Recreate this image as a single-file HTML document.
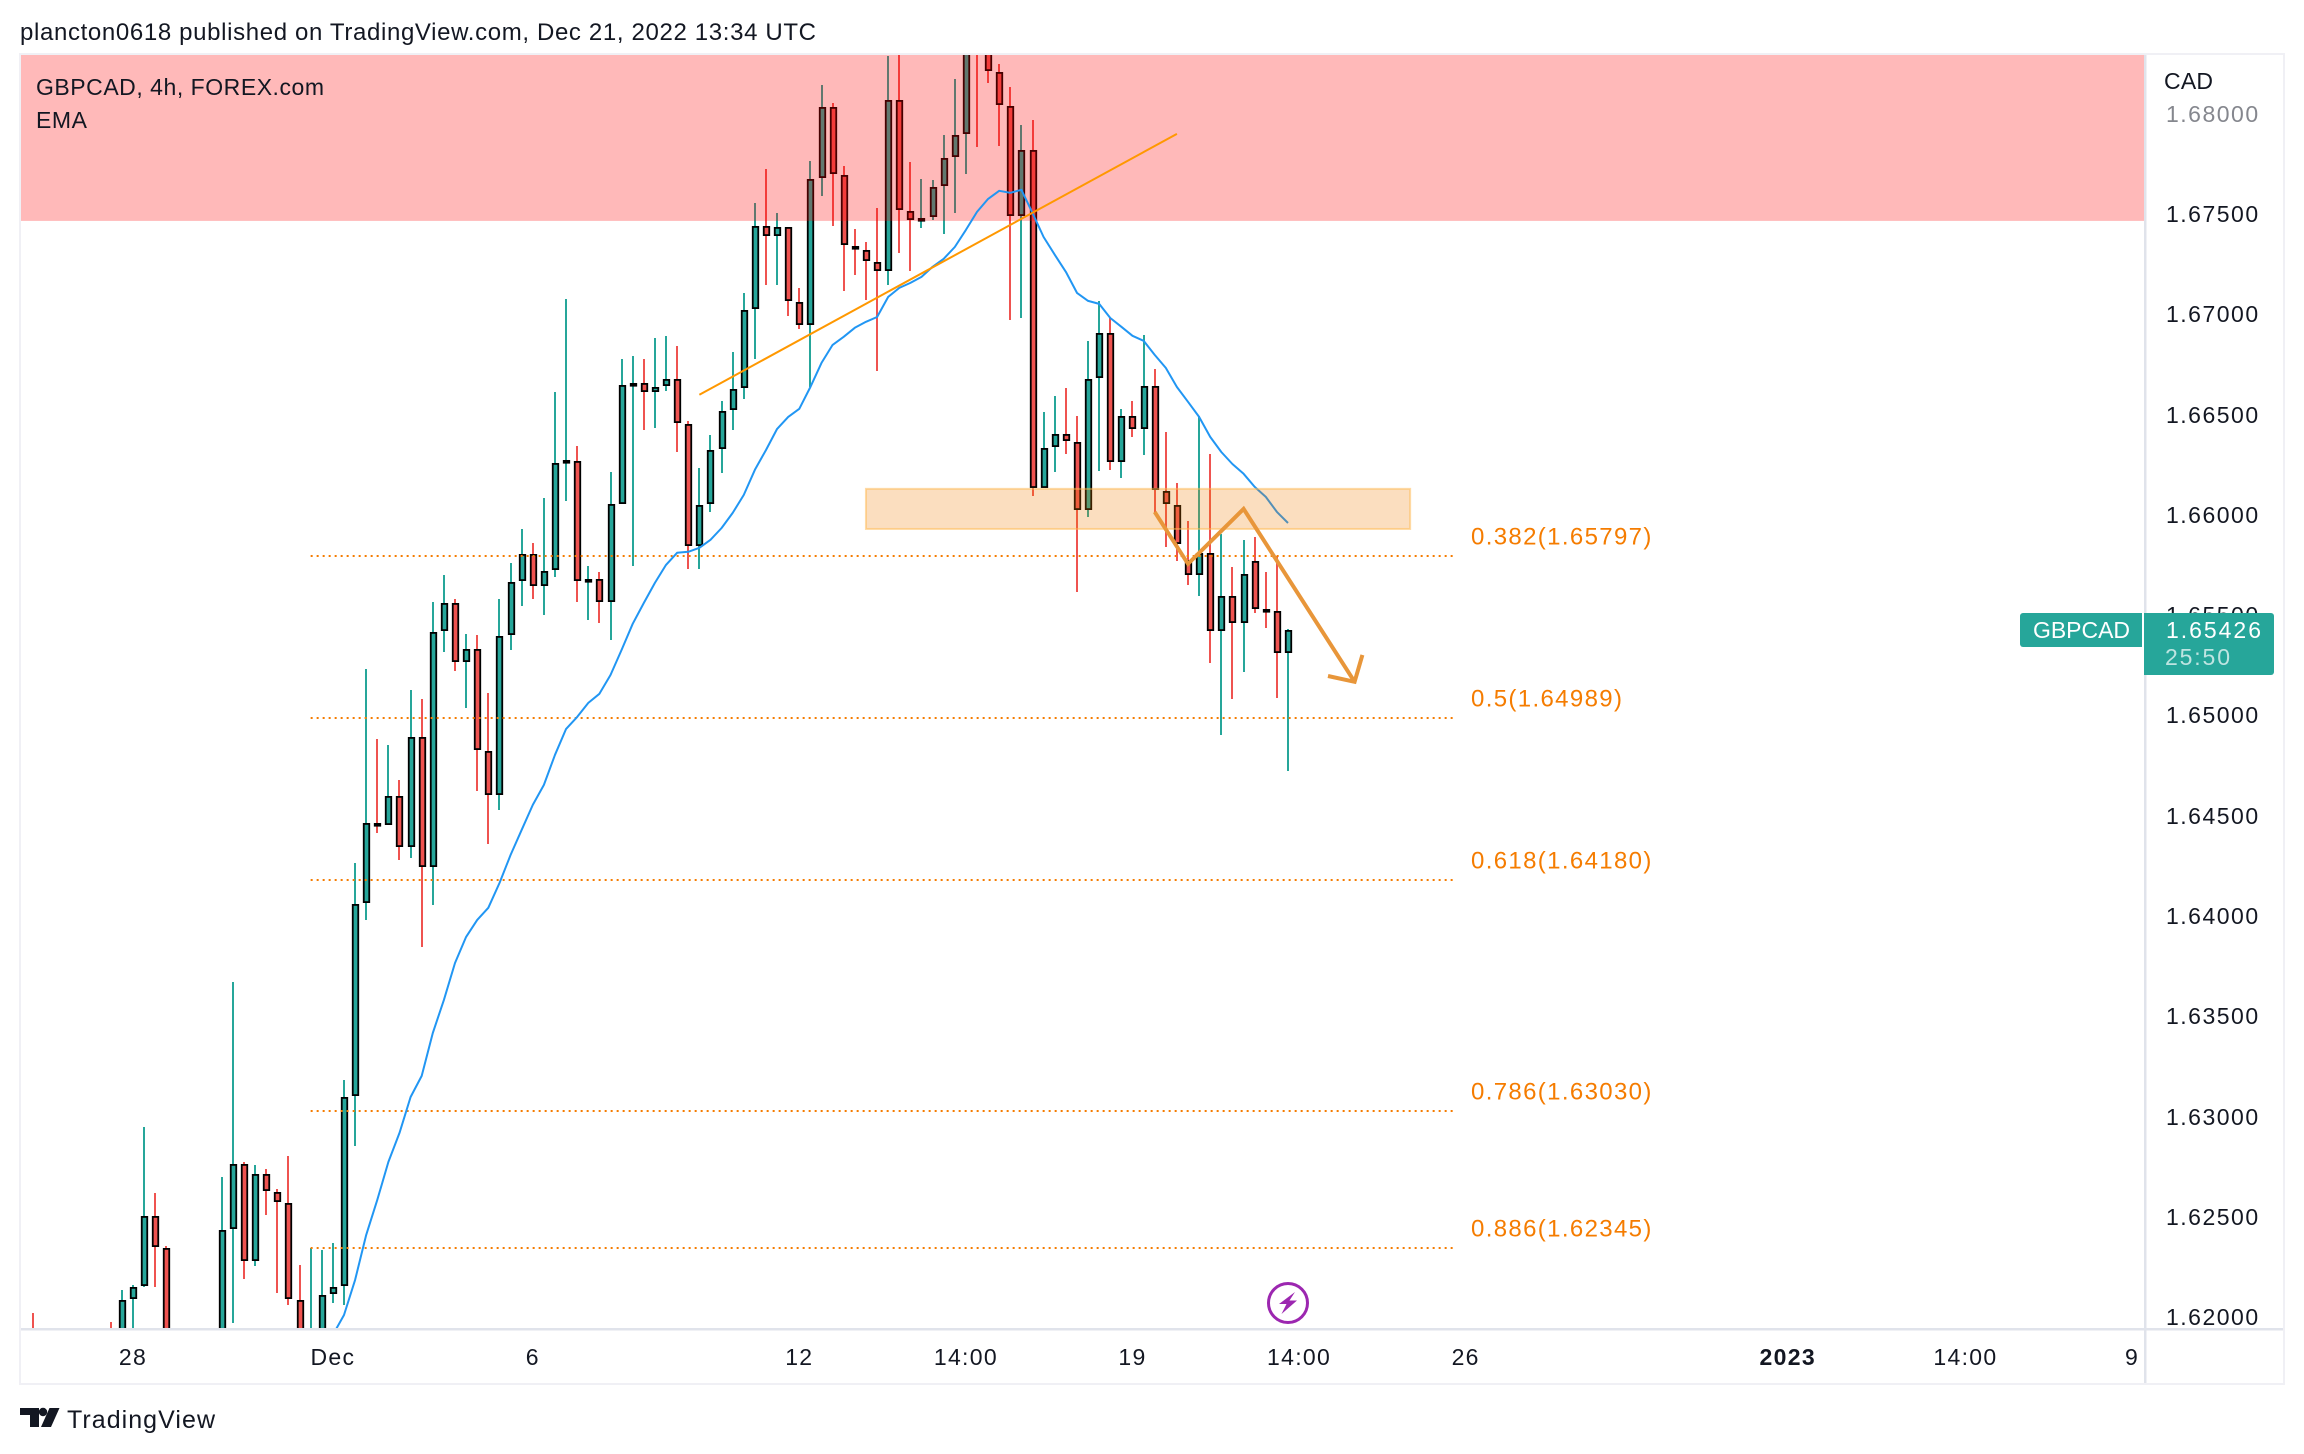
<!DOCTYPE html>
<html lang="en">
<head>
<meta charset="utf-8">
<title>GBPCAD 4h chart</title>
<style>
html,body{margin:0;padding:0;background:#fff;width:2304px;height:1454px;overflow:hidden}
svg{display:block;font-family:"Liberation Sans",sans-serif}
</style>
</head>
<body>
<svg id="chart" xmlns="http://www.w3.org/2000/svg" width="2304" height="1454" viewBox="0 0 2304 1454">
  <defs><clipPath id="plot-clip"><rect x="21" y="55" width="2123" height="1273"/></clipPath></defs>
  <rect x="0" y="0" width="2304" height="1454" fill="#ffffff"/>
  <text x="20" y="40" font-size="24" fill="#131722" textLength="796" lengthAdjust="spacing">plancton0618 published on TradingView.com, Dec 21, 2022 13:34 UTC</text>
  <rect x="20" y="54" width="2264" height="1330" fill="#ffffff" stroke="#f0f0f5" stroke-width="2"/>
  <g id="plot" clip-path="url(#plot-clip)"></g>
  <rect x="2144" y="55" width="2.5" height="1328" fill="#e0e3eb"/>
  <rect x="21" y="1328" width="2262" height="2.5" fill="#e0e3eb"/>
  <g id="overlay"></g>
  <g id="price-axis"></g>
  <g id="time-axis"></g>
  <text x="36" y="95" font-size="23" fill="#131722" textLength="288" lengthAdjust="spacing">GBPCAD, 4h, FOREX.com</text>
  <text x="36" y="128" font-size="23" fill="#131722" textLength="51" lengthAdjust="spacing">EMA</text>
  <text x="2164" y="89" font-size="23" fill="#131722" textLength="49" lengthAdjust="spacing">CAD</text>
  <g>
    <path d="M2142 613H2023a3 3 0 0 0-3 3V644a3 3 0 0 0 3 3H2142Z" fill="#26a69a"/>
    <text x="2033" y="638" font-size="23" fill="#ffffff" textLength="97" lengthAdjust="spacing">GBPCAD</text>
    <path d="M2144 613H2271a3 3 0 0 1 3 3V672a3 3 0 0 1-3 3H2144Z" fill="#26a69a"/>
    <text x="2166" y="638" font-size="23" fill="#ffffff" textLength="95" lengthAdjust="spacing">1.65426</text>
    <text x="2165" y="665" font-size="23" fill="#ffffff" fill-opacity="0.7" textLength="65" lengthAdjust="spacing">25:50</text>
  </g>
  <g>
    <circle cx="1288" cy="1303" r="19.5" fill="#ffffff" stroke="#9c27b0" stroke-width="3"/>
    <polygon points="1295,1292 1279,1304 1286.5,1304 1281.5,1314 1297,1300.5 1289.5,1300.5" fill="#9c27b0"/>
  </g>
  <g>
    <path d="M20 1408H39V1427H30V1415H20Z" fill="#131722"/>
    <circle cx="43" cy="1412" r="4.2" fill="#131722"/>
    <polygon points="49.5,1408 59.5,1408 51,1427 41,1427" fill="#131722"/>
    <text x="67" y="1428" font-size="25" fill="#131722" textLength="148" lengthAdjust="spacing">TradingView</text>
  </g>
</svg>
<script>
// ---- chart data (bar slot = 4h bar number, prices in CAD) ----
const barSlots = [0,7,8,9,10,11,12,17,18,19,20,21,22,23,24,25,26,27,28,29,30,31,32,33,34,35,36,37,38,39,40,41,42,43,44,45,46,47,48,49,50,51,52,53,54,55,56,57,58,59,60,61,62,63,64,65,66,67,68,69,70,71,72,73,74,75,76,77,78,79,80,81,82,83,84,85,86,87,88,89,90,91,92,93,94,95,96,97,98,99,100,101,102,103,104,105,106,107,108,109,110,111,112,113];
const opens = [1.61887,1.61887,1.61862,1.62091,1.62156,1.62505,1.62345,
1.61862,1.62440,1.62764,1.62281,1.62714,1.62625,1.62570,1.62086,1.61837,1.61862,1.62116,1.62156,1.63103,1.64066,1.64465,1.64455,1.64599,1.64345,1.64893,1.64245,1.65422,1.65561,1.65267,1.65332,1.64824,1.64604,1.65402,1.65671,1.65806,1.65646,1.65726,1.66259,1.66269,1.65671,1.65681,1.65566,1.66055,1.66648,1.66658,1.66613,1.66643,1.66678,1.66454,1.65846,1.66055,1.66329,1.66524,1.66633,1.67027,1.67441,1.67391,1.67436,1.67062,1.66948,1.67680,1.68034,1.67695,1.67341,1.67322,1.67262,1.67217,1.68069,1.67516,1.67471,1.67486,1.67641,1.67785,1.67900,1.68468,1.68344,1.68209,1.68039,1.67491,1.67820,1.66135,1.66339,1.66404,1.66364,1.66025,1.66683,1.66908,1.66264,1.66494,1.66429,1.66643,1.66120,1.66050,1.65776,1.65701,1.65811,1.65422,1.65596,1.65462,1.65771,1.65532,1.65522,1.65312];
const highs = [1.62021,1.61977,1.62136,1.62161,1.62949,1.62620,1.62355,
1.62699,1.63672,1.62774,1.62759,1.62739,1.62640,1.62804,1.62261,1.62345,1.62336,1.62370,1.63183,1.64265,1.65232,1.64883,1.64853,1.64679,1.65128,1.65083,1.65566,1.65701,1.65581,1.65407,1.65402,1.65113,1.65581,1.65761,1.65930,1.65861,1.66085,1.66613,1.67077,1.66344,1.65746,1.65716,1.66215,1.66778,1.66793,1.66778,1.66883,1.66893,1.66843,1.66469,1.66235,1.66399,1.66569,1.66813,1.67107,1.67556,1.67725,1.67506,1.67436,1.67132,1.67765,1.68144,1.68054,1.67740,1.67426,1.67361,1.67531,1.68289,1.68369,1.67760,1.67676,1.67671,1.67895,1.68174,1.68468,1.68518,1.68418,1.68249,1.68134,1.67945,1.67970,1.66514,1.66594,1.66633,1.66494,1.66868,1.67067,1.66982,1.66529,1.66569,1.66898,1.66728,1.66414,1.66160,1.65970,1.66494,1.66304,1.65905,1.65741,1.65876,1.65891,1.65716,1.65796,1.65432];
const lows = [1.61737,1.61737,1.61787,1.61887,1.62151,1.62151,1.61787,
1.61787,1.61972,1.62191,1.62256,1.62510,1.62121,1.62061,1.61787,1.61787,1.61787,1.62071,1.62061,1.62854,1.63981,1.64415,1.64455,1.64280,1.64290,1.63846,1.64056,1.65317,1.65222,1.65038,1.64624,1.64360,1.64529,1.65327,1.65546,1.65581,1.65502,1.65691,1.66070,1.65566,1.65477,1.65462,1.65377,1.66055,1.65746,1.66424,1.66434,1.66618,1.66314,1.65731,1.65731,1.66015,1.66210,1.66424,1.66579,1.66778,1.67147,1.67147,1.66992,1.66928,1.66638,1.67591,1.67441,1.67117,1.67197,1.67072,1.66718,1.67147,1.67307,1.67217,1.67431,1.67471,1.67401,1.67506,1.67700,1.67835,1.68154,1.67840,1.66972,1.66982,1.66095,1.66135,1.66215,1.66304,1.65616,1.65990,1.66220,1.66225,1.66185,1.66389,1.66299,1.66010,1.65841,1.65771,1.65651,1.65596,1.65262,1.64903,1.65083,1.65217,1.65512,1.65437,1.65088,1.64724];
const closes = [1.61787,1.61787,1.62086,1.62151,1.62505,1.62350,1.61862,
1.62435,1.62764,1.62281,1.62714,1.62630,1.62575,1.62091,1.61862,1.61912,1.62111,1.62151,1.63098,1.64061,1.64465,1.64455,1.64599,1.64345,1.64893,1.64245,1.65417,1.65561,1.65267,1.65332,1.64829,1.64604,1.65397,1.65666,1.65806,1.65646,1.65721,1.66259,1.66274,1.65671,1.65681,1.65566,1.66055,1.66648,1.66658,1.66613,1.66638,1.66678,1.66459,1.65846,1.66050,1.66324,1.66519,1.66628,1.67022,1.67441,1.67391,1.67436,1.67067,1.66948,1.67676,1.68034,1.67700,1.67346,1.67326,1.67267,1.67217,1.68069,1.67521,1.67471,1.67481,1.67636,1.67780,1.67895,1.68369,1.68369,1.68214,1.68044,1.67491,1.67820,1.66135,1.66334,1.66404,1.66369,1.66025,1.66678,1.66908,1.66264,1.66494,1.66429,1.66643,1.66125,1.66055,1.65856,1.65701,1.65811,1.65422,1.65596,1.65462,1.65706,1.65532,1.65527,1.65312,1.65426];
const emaFirstSlot = 27;
const emaValues = [1.61912,1.62011,1.62186,1.62410,1.62585,1.62774,1.62919,1.63098,1.63203,1.63417,1.63582,1.63766,1.63896,1.63981,1.64041,1.64165,1.64305,1.64430,1.64554,1.64654,1.64804,1.64933,1.64993,1.65063,1.65108,1.65202,1.65327,1.65457,1.65561,1.65661,1.65751,1.65811,1.65816,1.65836,1.65876,1.65935,1.66010,1.66100,1.66225,1.66324,1.66429,1.66489,1.66529,1.66638,1.66758,1.66848,1.66888,1.66933,1.66963,1.66987,1.67087,1.67132,1.67157,1.67187,1.67237,1.67277,1.67336,1.67421,1.67511,1.67576,1.67616,1.67606,1.67621,1.67506,1.67386,1.67297,1.67212,1.67107,1.67067,1.67052,1.66982,1.66938,1.66893,1.66868,1.66798,1.66733,1.66638,1.66564,1.66489,1.66389,1.66314,1.66254,1.66205,1.66140,1.66090,1.66015,1.65960];
const priceTicks = [1.68,1.675,1.67,1.665,1.66,1.655,1.65,1.645,1.64,1.635,1.63,1.625,1.62];
const timeTickSlots = [9,27,45,69,84,99,114,129,158,174,189];
const timeTickLabels = ["28","Dec","6","12","14:00","19","14:00","26","2023","14:00","9"];
const fibPrices = [1.65797,1.64989,1.64180,1.63030,1.62345];
const fibLabels = ["0.382(1.65797)","0.5(1.64989)","0.618(1.64180)","0.786(1.63030)","0.886(1.62345)"];
const fibStartSlot = 25;
const fibEndSlot = 128;
const zoneBottomPrice = 1.67466;
const boxSlots = [75,124];
const boxPrices = [1.66130,1.65930];
const trendSlots = [60,103];
const trendPrices = [1.66599,1.67900];
const zigzagSlots = [101,104,109,119];
const zigzagPrices = [1.66015,1.65756,1.66030,1.65168];
const arrowheadSlots = [116.6,119,119.7];
const arrowheadPrices = [1.65197,1.65168,1.65302];

// ---- axis functions ----
function xScale(slot){ return 33 + slot * 11.106; }
function yScale(price){ return 717.7 + (1.64989 - price) * 20056; }

const NS = "http://www.w3.org/2000/svg";
function make(tag, parent, attrs, text){
  const el = document.createElementNS(NS, tag);
  for (const k in attrs) el.setAttribute(k, attrs[k]);
  if (text !== undefined) el.textContent = text;
  parent.appendChild(el);
  return el;
}
const plot = document.getElementById("plot");
const overlay = document.getElementById("overlay");
const priceAxis = document.getElementById("price-axis");
const timeAxis = document.getElementById("time-axis");

// candles
const candleGroup = make("g", plot, {});


barSlots.forEach(function(slot, i){
  const c = Math.round(xScale(slot));
  const up = closes[i] >= opens[i];
  const color = up ? "#26a69a" : "#ef5350";
  const g = make("g", candleGroup, {});
  
  
  const yH = Math.round(yScale(highs[i]));
  const yL = Math.round(yScale(lows[i]));
  const wick = make("rect", g, {x: c - 1, y: yH, width: 2, height: Math.max(1, yL - yH), fill: color});
  
  
  const yT = Math.round(yScale(Math.max(opens[i], closes[i])));
  const yB = Math.round(yScale(Math.min(opens[i], closes[i])));
  const body = make("rect", g, {x: c - 2.25, y: yT + 0.9, width: 5.5, height: Math.max(1.8, yB - yT - 1.8), fill: color, stroke: "#000000", "stroke-width": 1.8});
  
  
});

// supply zone (drawn over the candles)
const zone = make("rect", plot, {x: 21, y: 55, width: 2123, height: yScale(zoneBottomPrice) - 55, fill: "#ff0000", "fill-opacity": 0.275});



// fib levels
fibPrices.forEach(function(price, i){
  const y = Math.round(yScale(price));
  const line = make("line", plot, {x1: xScale(fibStartSlot), x2: xScale(fibEndSlot), y1: y, y2: y, stroke: "#f57c00", "stroke-width": 2, "stroke-dasharray": "2 4"});
  
  
  const label = make("text", overlay, {x: 1471, y: y - 11.5, "font-size": 24, fill: "#f57c00", "letter-spacing": 1.35}, fibLabels[i]);
  
  
});

// EMA
const emaPoints = emaValues.map(function(v, i){ return xScale(emaFirstSlot + i).toFixed(1) + "," + yScale(v).toFixed(1); }).join(" ");
const ema = make("polyline", plot, {points: emaPoints, fill: "none", stroke: "#2196f3", "stroke-width": 2, "stroke-linejoin": "round"});



// trend line
const trend = make("line", plot, {x1: xScale(trendSlots[0]), y1: yScale(trendPrices[0]), x2: xScale(trendSlots[1]), y2: yScale(trendPrices[1]), stroke: "#ff9800", "stroke-width": 2});



// resistance box
const box = make("rect", plot, {x: xScale(boxSlots[0]), y: yScale(boxPrices[0]), width: xScale(boxSlots[1]) - xScale(boxSlots[0]), height: yScale(boxPrices[1]) - yScale(boxPrices[0]), fill: "#f07d00", "fill-opacity": 0.25, stroke: "#ffb74d", "stroke-opacity": 0.5, "stroke-width": 2});



// projected path arrow
const zigzag = make("polyline", plot, {points: zigzagSlots.map(function(s, i){ return xScale(s).toFixed(1) + "," + yScale(zigzagPrices[i]).toFixed(1); }).join(" "), fill: "none", stroke: "#e8963a", "stroke-width": 4, "stroke-linejoin": "miter"});


const arrowhead = make("polyline", plot, {points: arrowheadSlots.map(function(s, i){ return xScale(s).toFixed(1) + "," + yScale(arrowheadPrices[i]).toFixed(1); }).join(" "), fill: "none", stroke: "#e8963a", "stroke-width": 4, "stroke-linejoin": "miter"});



// price axis labels
priceTicks.forEach(function(p, i){
  const t = make("text", priceAxis, {x: 2166, y: Math.round(yScale(p)) + 8, "font-size": 23, fill: i === 0 ? "#85878e" : "#131722", "letter-spacing": 1.5}, p.toFixed(5));
  
  
});

// time axis labels
timeTickLabels.forEach(function(label, i){
  const t = make("text", timeAxis, {x: xScale(timeTickSlots[i]), y: 1365, "font-size": 23, fill: "#131722", "text-anchor": "middle", "letter-spacing": 1.3, "font-weight": label === "2023" ? "bold" : "normal"}, label);
  
  
});
</script>
</body>
</html>
